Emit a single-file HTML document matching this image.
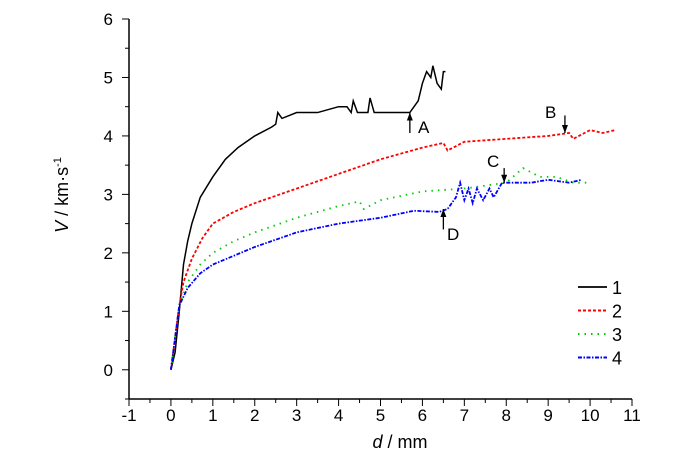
<!DOCTYPE html>
<html><head><meta charset="utf-8"><style>
body{margin:0;background:#fff}
svg{font-family:"Liberation Sans",sans-serif}
</style></head><body>
<svg id="chart" width="700" height="456" viewBox="0 0 700 456">
<g id="axes"></g>
<g id="series"></g>
<g id="notes"></g>
<g id="legend"></g>
<text x="400" y="448" font-size="18" text-anchor="middle"><tspan font-style="italic">d</tspan> / mm</text>
<text transform="translate(68,195) rotate(-90)" font-size="18" text-anchor="middle"><tspan font-style="italic">V</tspan> / km·s<tspan font-size="11" dy="-7">-1</tspan></text>
</svg>
<script>
const xTicks=[-1,0,1,2,3,4,5,6,7,8,9,10,11];
const yTicks=[0,1,2,3,4,5,6];
const s1x=[0,0.1,0.2,0.25,0.3,0.4,0.5,0.7,1,1.3,1.6,2,2.4,2.5,2.55,2.65,3,3.5,4,4.2,4.3,4.35,4.45,4.7,4.75,4.85,5.7,5.9,6.0,6.1,6.2,6.25,6.35,6.45,6.5,6.55];
const s1y=[0,0.3,1.0,1.4,1.8,2.2,2.5,2.95,3.3,3.6,3.8,4.0,4.15,4.2,4.4,4.3,4.4,4.4,4.5,4.5,4.4,4.6,4.4,4.4,4.65,4.4,4.4,4.6,4.9,5.1,5.0,5.2,4.9,4.8,5.1,5.1];
const s2x=[0,0.2,0.3,0.5,0.75,1,1.5,2,3,4,5,6,6.5,6.6,7,8,9,9.5,9.6,10,10.3,10.6];
const s2y=[0,1.1,1.5,1.9,2.25,2.5,2.7,2.85,3.1,3.35,3.6,3.8,3.88,3.75,3.9,3.95,4.0,4.05,3.95,4.1,4.05,4.1];
const s3x=[0,0.2,0.4,0.7,1,1.5,2,3,4,4.5,4.6,5,6,7,7.5,8,8.4,8.8,9.2,9.6,10];
const s3y=[0,1.1,1.5,1.8,2.0,2.2,2.35,2.6,2.8,2.88,2.75,2.9,3.05,3.1,3.15,3.2,3.45,3.3,3.3,3.2,3.2];
const s4x=[0,0.2,0.4,0.7,1,1.5,2,3,4,5,5.8,6.4,6.6,6.8,6.9,7,7.1,7.2,7.3,7.45,7.6,7.7,7.9,8.2,8.6,9,9.5,9.8];
const s4y=[0,1.1,1.4,1.65,1.8,1.95,2.1,2.35,2.5,2.6,2.72,2.7,2.75,2.95,3.2,2.9,3.1,2.85,3.1,2.9,3.1,2.95,3.2,3.2,3.2,3.25,3.2,3.25];
const legendLabels=["1","2","3","4"];
const X0=129,X1=632,Y0=399,Y1=19,xmin=-1,xmax=11,ymin=-0.5,ymax=6;
const sx=v=>X0+(v-xmin)/(xmax-xmin)*(X1-X0);
const sy=v=>Y0-(v-ymin)/(ymax-ymin)*(Y0-Y1);
const NS="http://www.w3.org/2000/svg";
function mk(tag,parent,attrs){const e=document.createElementNS(NS,tag);for(const k in attrs)e.setAttribute(k,attrs[k]);parent.appendChild(e);return e;}
const ax=document.getElementById('axes');
let e=mk('line',ax,{x1:X0,y1:Y0,x2:X1,y2:Y0,stroke:'#000','stroke-width':1.5});


e=mk('line',ax,{x1:X0,y1:Y0,x2:X0,y2:Y1,stroke:'#000','stroke-width':1.5});


for(let v=xmin;v<=xmax+0.01;v+=0.5){const big=Math.abs(v-Math.round(v))<0.01;
 e=mk('line',ax,{x1:sx(v),y1:Y0,x2:sx(v),y2:Y0+(big?7:4),stroke:'#000','stroke-width':1});
 
 }
xTicks.forEach(v=>{e=mk('text',ax,{x:sx(v),y:Y0+22,'font-size':17,'text-anchor':'middle'});e.textContent=v;
 
 });
for(let v=ymin;v<=ymax+0.01;v+=0.5){const big=Math.abs(v-Math.round(v))<0.01;
 e=mk('line',ax,{x1:X0,y1:sy(v),x2:X0-(big?7:4),y2:sy(v),stroke:'#000','stroke-width':1});
 
 }
yTicks.forEach(v=>{e=mk('text',ax,{x:X0-16,y:sy(v)+6,'font-size':17,'text-anchor':'end'});e.textContent=v;
 
 });
const styles=[{c:'#000',d:'none',w:1.5},{c:'#f00',d:'3,2',w:1.8},{c:'#0c0',d:'1.5,5',w:1.8},{c:'#00f',d:'4,1.5,1.5,1.5',w:1.8}];
const data=[[s1x,s1y],[s2x,s2y],[s3x,s3y],[s4x,s4y]];
const sg=document.getElementById('series');
data.forEach((d,i)=>{const pts=d[0].map((x,j)=>sx(x)+','+sy(d[1][j])).join(' ');
 e=mk('polyline',sg,{points:pts,fill:'none',stroke:styles[i].c,'stroke-width':styles[i].w,'stroke-dasharray':styles[i].d});
 
 });
const lg=document.getElementById('legend');
legendLabels.forEach((l,i)=>{const y=287+i*23.5;
 e=mk('line',lg,{x1:578,y1:y,x2:607,y2:y,stroke:styles[i].c,'stroke-width':styles[i].w+0.3,'stroke-dasharray':styles[i].d});
 
 
 e=mk('text',lg,{x:612,y:y+7,'font-size':18});e.textContent=l;
 
 });
const notes=[{t:'A',x:5.7,from:4.05,to:4.4,lx:418,ly:133},{t:'B',x:9.4,from:4.35,to:4.05,lx:545,ly:118},{t:'C',x:7.95,from:3.45,to:3.2,lx:487,ly:167},{t:'D',x:6.5,from:2.4,to:2.75,lx:447,ly:240}];
const ng=document.getElementById('notes');
notes.forEach(n=>{const x=sx(n.x),y1=sy(n.from),y2=sy(n.to),dir=y2<y1?1:-1;
 e=mk('line',ng,{x1:x,y1:y1,x2:x,y2:y2,stroke:'#000','stroke-width':1.3});
 
 
 e=mk('polygon',ng,{points:`${x},${y2} ${x-3},${y2+8*dir} ${x+3},${y2+8*dir}`,fill:'#000'});
 
 
 e=mk('text',ng,{x:n.lx,y:n.ly,'font-size':17});e.textContent=n.t;
 
 });
</script>
</body></html>
